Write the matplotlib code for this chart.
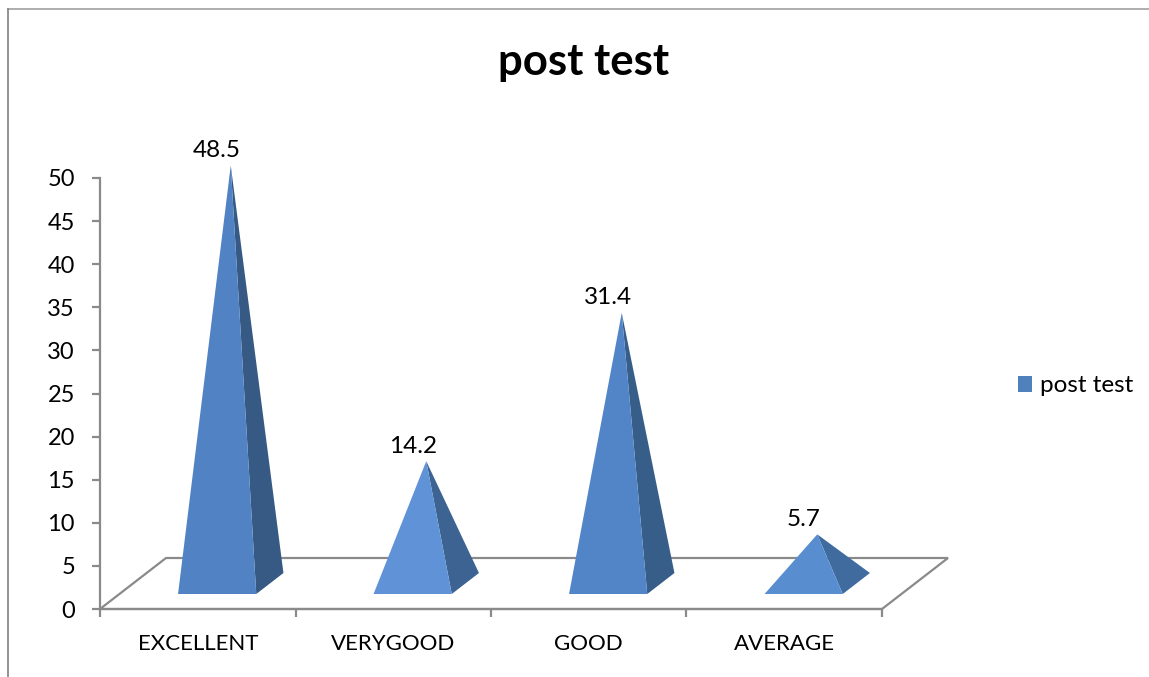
from matplotlib import pyplot as plt
from matplotlib.lines import Line2D
from matplotlib.patches import Patch, Polygon
import numpy as np

categories = ["EXCELLENT", "VERYGOOD", "GOOD", "AVERAGE"]
values = [48.5, 14.2, 31.4, 5.7]
yticks = [0, 5, 10, 15, 20, 25, 30, 35, 40, 45, 50]
series_name = "post test"

# front and side shade of each pyramid
front_colors = ["#5082c4", "#5f92d6", "#5285c8", "#588dd0"]
side_colors = ["#365a84", "#3c6391", "#375d89", "#406b9f"]
grey = "#8a8a8a"

W, H = 1149, 677
plt.rcParams["font.family"] = ["Lato", "DejaVu Sans"]

fig = plt.figure(figsize=(W / 100, H / 100), dpi=100)
ax = fig.add_axes([100 / W, (H - 609) / H, 782 / W, 431 / H])
ax.set_xlim(0, 4)
ax.set_ylim(0, 50)

# oblique depth of the floor, in data units
depth_x = 66 / 195.5
depth_y = 51 / 8.62
half_width = 0.2
front = 0.294
back = 0.706


def project(cat, off, depth, height=0):
    return (cat + off + depth * depth_x, height + depth * depth_y)


# floor
floor = Polygon([project(0, 0, 0), project(4, 0, 0), project(4, 0, 1), project(0, 0, 1)],
                closed=True, facecolor="white", edgecolor=grey, linewidth=1.6,
                clip_on=False, zorder=1)
ax.add_patch(floor)

# pyramids
for i, v in enumerate(values):
    c = i + 0.5
    fl = project(c, -half_width, front)
    fr = project(c, half_width, front)
    br = project(c, half_width, back)
    apex = project(c, 0, 0.5, v)
    ax.add_patch(Polygon([fr, br, apex], closed=True, facecolor=side_colors[i],
                         edgecolor="none", clip_on=False, zorder=3))
    ax.add_patch(Polygon([fl, fr, apex], closed=True, facecolor=front_colors[i],
                         edgecolor="none", clip_on=False, zorder=4))
    label_x = project(c, 0, front)[0]
    ax.annotate(str(v), (label_x, apex[1]), xytext=(0, 10.8), textcoords="offset points",
                ha="center", va="center", fontsize=17.5, color="black", zorder=5,
                annotation_clip=False)

# axes
for side in ["top", "right"]:
    ax.spines[side].set_visible(False)
for side in ["left", "bottom"]:
    ax.spines[side].set_color(grey)
    ax.spines[side].set_linewidth(1.6)
    ax.spines[side].set_zorder(2)
ax.set_yticks(yticks)
ax.set_xticks(np.arange(5))
ax.set_xticklabels([])
ax.set_xticks(np.arange(4) + 0.5, categories, minor=True)
ax.tick_params(axis="both", which="major", length=6, width=1.6, color=grey,
               labelsize=17, pad=12)
ax.tick_params(axis="x", which="minor", length=0, labelsize=16, pad=18)
ax.patch.set_visible(False)

# title, legend and outer frame
fig.text(584 / W, 1 - 62 / H, series_name, ha="center", va="center",
         fontsize=31.5, fontweight="bold", color="black")
fig.legend(handles=[Patch(facecolor="#4f81bd", label=series_name)],
           loc="center left", bbox_to_anchor=(996 / W, 1 - 386 / H), frameon=False,
           fontsize=17.5, handlelength=0.6, handleheight=0.6, handletextpad=0.33)
fig.add_artist(Line2D([8 / W, 1], [1 - 9 / H, 1 - 9 / H], color="#a0a0a0", linewidth=1.2))
fig.add_artist(Line2D([8 / W, 8 / W], [1 - 9 / H, 0], color="#808080", linewidth=1.2))

fig.savefig("out.png", dpi=100)
